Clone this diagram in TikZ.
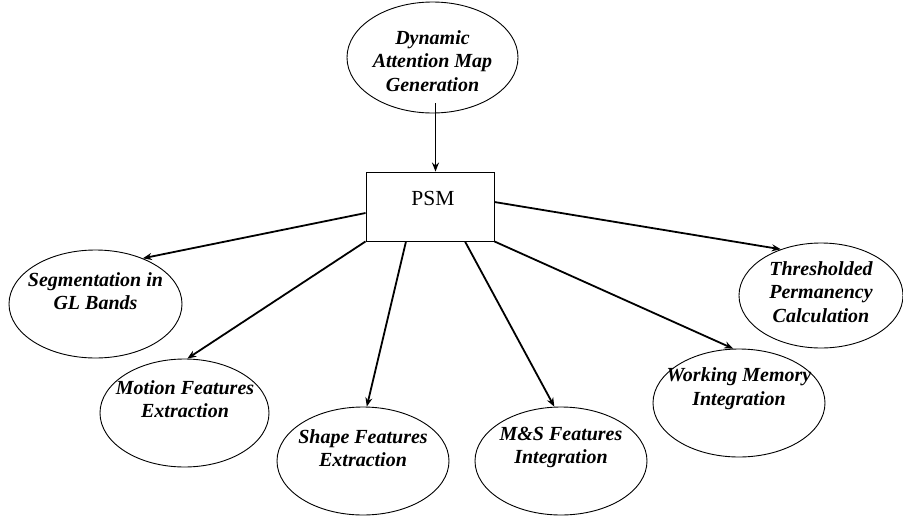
\documentclass[tikz,border=0pt]{standalone}
\usepackage{fontspec}
\setmainfont{Liberation Serif}
\usetikzlibrary{shapes.geometric,arrows.meta,calc}
\begin{document}
\begin{tikzpicture}[x=1pt,y=-1pt,
  oval/.style={draw,ellipse,line width=0.9pt,inner sep=0pt},
  lbl/.style={align=center,inner sep=0pt,font=\fontsize{20}{23.5}\selectfont\bfseries\itshape},
  arr/.style={line width=1.8pt,-{Stealth[length=9pt,width=7pt]}}]
\useasboundingbox (0,0) rectangle (903,517);
% ellipses
\node[oval,minimum width=171pt,minimum height=111pt] (dam) at (432.5,57.5) {};
\node[oval,minimum width=173pt,minimum height=108pt] (seg) at (95.5,304) {};
\node[oval,minimum width=169pt,minimum height=108pt] (mot) at (184.5,413) {};
\node[oval,minimum width=172pt,minimum height=108pt] (shp) at (363,461) {};
\node[oval,minimum width=172pt,minimum height=108pt] (msf) at (561,461) {};
\node[oval,minimum width=172pt,minimum height=108pt] (wmi) at (739,403) {};
\node[oval,minimum width=164pt,minimum height=105pt] (thr) at (821,295.5) {};
% box
\node[draw,line width=0.9pt,minimum width=128pt,minimum height=69pt,inner sep=0pt] (psm) at (430,206.5) {};
\node[inner sep=0pt,font=\fontsize{21.5}{24}\selectfont] (psmt) at (433,198) {PSM};
% labels
\node[lbl] (damt) at (432.5,61) {Dynamic\\Attention Map\\Generation};
\node[lbl] (segt) at (95.5,291) {Segmentation in\\GL Bands};
\node[lbl] (mott) at (185,399) {Motion Features\\Extraction};
\node[lbl] (shpt) at (363,448) {Shape Features\\Extraction};
\node[lbl] (msft) at (561,447.5) {M\&S Features\\Integration};
\node[lbl] (wmit) at (739,388.5) {Working Memory\\Integration};
\node[lbl] (thrt) at (821,292) {Thresholded\\Permanency\\Calculation};
% connectors
\coordinate (topin) at (435.5,103);
\draw[arr] (topin) -- (topin |- psm.north);
\draw[arr] ($(psm.west)+(0,6.5)$) -- (seg.44);
\draw[arr] (psm.south west) -- (mot.87);
\draw[arr] ($(psm.south)+(-24,0)$) -- (shp.86);
\draw[arr] ($(psm.south)+(35,0)$) -- (msf.97);
\draw[arr] (psm.south east) -- (wmi.96);
\draw[arr] ($(psm.east)+(0,-4.5)$) -- (thr.131);
\end{tikzpicture}
\end{document}
